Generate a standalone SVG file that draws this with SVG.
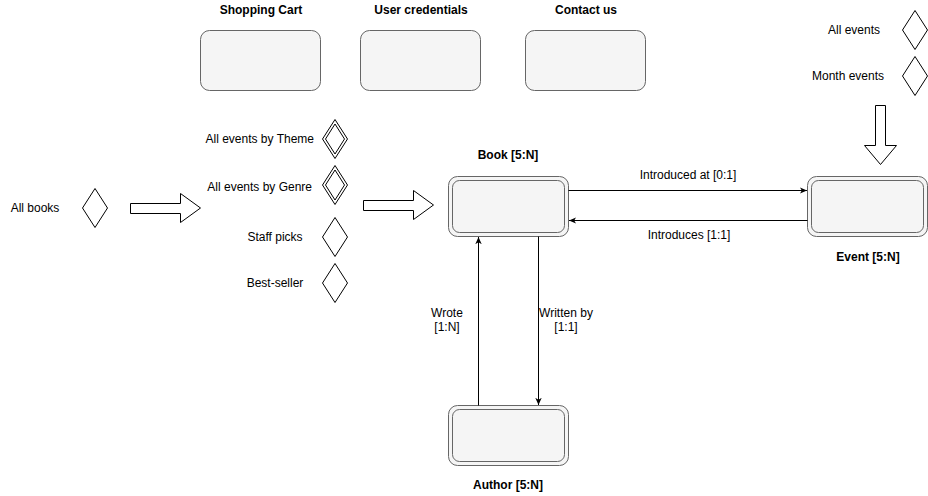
<svg xmlns="http://www.w3.org/2000/svg" width="928" height="496" viewBox="0 0 928 496">
<defs>
<style>
text{font-family:"Liberation Sans",Arial,sans-serif;font-size:12px;fill:#000}
.b{font-weight:bold}
.m{text-anchor:middle}
.e{text-anchor:end}
.box{fill:#f5f5f5;stroke:#666;stroke-width:1}
.dia{fill:#fff;stroke:#000;stroke-width:1}
.blk{fill:#fff;stroke:#000;stroke-width:1}
.conn{fill:none;stroke:#000;stroke-width:1}
</style>
<marker id="ah" viewBox="0 0 10 10" refX="9" refY="5" markerWidth="8" markerHeight="8" markerUnits="userSpaceOnUse" orient="auto">
<path d="M0,1 L9,5 L0,9 L2.5,5 Z" fill="#000"/>
</marker>
</defs>
<rect width="928" height="496" fill="#fff"/>

<g id="shopping-cart">
<text class="b m" x="261" y="14">Shopping Cart</text>
<rect class="box" x="200.5" y="30.5" width="120" height="60" rx="9"/>
</g>
<g id="user-credentials">
<text class="b m" x="421" y="14">User credentials</text>
<rect class="box" x="360.5" y="30.5" width="120" height="60" rx="9"/>
</g>
<g id="contact-us">
<text class="b m" x="586" y="14">Contact us</text>
<rect class="box" x="525.5" y="30.5" width="120" height="60" rx="9"/>
</g>

<g id="all-events">
<text class="m" x="854" y="34">All events</text>
<polygon class="dia" points="915,10.5 927.5,30 915,49.5 902.5,30"/>
</g>
<g id="month-events">
<text class="m" x="848" y="80">Month events</text>
<polygon class="dia" points="915,56.5 927.5,76 915,95.5 902.5,76"/>
</g>
<g id="down-arrow">
<polygon class="blk" points="875.5,105.5 885.5,105.5 885.5,145.5 896.5,145.5 880.5,164.5 864.5,145.5 875.5,145.5"/>
</g>

<g id="all-books">
<text class="m" x="35" y="212">All books</text>
<polygon class="dia" points="95,188.5 107.5,208 95,227.5 82.5,208"/>
</g>
<g id="arrow-1">
<polygon class="blk" points="130.5,203.5 180.5,203.5 180.5,193.5 200.5,208 180.5,222.5 180.5,213.5 130.5,213.5"/>
</g>

<g id="events-theme">
<text class="e" x="314" y="143">All events by Theme</text>
<polygon class="dia" points="335,119.5 347.5,139 335,158.5 322.5,139"/>
<polygon class="dia" points="335,124 344.5,139 335,154 325.5,139"/>
</g>
<g id="events-genre">
<text class="e" x="312" y="191">All events by Genre</text>
<polygon class="dia" points="335,165.5 347.5,185 335,204.5 322.5,185"/>
<polygon class="dia" points="335,170 344.5,185 335,200 325.5,185"/>
</g>
<g id="staff-picks">
<text class="m" x="275" y="241">Staff picks</text>
<polygon class="dia" points="335,217.5 347.5,237 335,256.5 322.5,237"/>
</g>
<g id="best-seller">
<text class="m" x="275" y="287">Best-seller</text>
<polygon class="dia" points="335,263.5 347.5,283 335,302.5 322.5,283"/>
</g>
<g id="arrow-2">
<polygon class="blk" points="363.5,200.5 413.5,200.5 413.5,190.5 433.5,205 413.5,219.5 413.5,210.5 363.5,210.5"/>
</g>

<g id="book">
<text class="b m" x="508" y="159">Book [5:N]</text>
<rect class="box" x="448.5" y="176.5" width="120" height="60" rx="9"/>
<rect class="box" x="452.5" y="180.5" width="112" height="52" rx="7"/>
</g>
<g id="event">
<text class="b m" x="868" y="261">Event [5:N]</text>
<rect class="box" x="807.5" y="176.5" width="120" height="60" rx="9"/>
<rect class="box" x="811.5" y="180.5" width="112" height="52" rx="7"/>
</g>
<g id="author">
<text class="b m" x="508" y="489">Author [5:N]</text>
<rect class="box" x="448.5" y="405.5" width="120" height="60" rx="9"/>
<rect class="box" x="452.5" y="409.5" width="112" height="52" rx="7"/>
</g>

<g id="connectors">
<path class="conn" d="M568.5,190.5 H807" marker-end="url(#ah)"/>
<path class="conn" d="M807.5,220.5 H569" marker-end="url(#ah)"/>
<path class="conn" d="M538.5,236.5 V405" marker-end="url(#ah)"/>
<path class="conn" d="M478.5,405.5 V237" marker-end="url(#ah)"/>
<text class="m" x="688" y="179">Introduced at [0:1]</text>
<text class="m" x="689" y="239">Introduces [1:1]</text>
<text class="m" x="566" y="317">Written by</text>
<text class="m" x="566" y="331">[1:1]</text>
<text class="m" x="447" y="317">Wrote</text>
<text class="m" x="447" y="331">[1:N]</text>
</g>
</svg>
